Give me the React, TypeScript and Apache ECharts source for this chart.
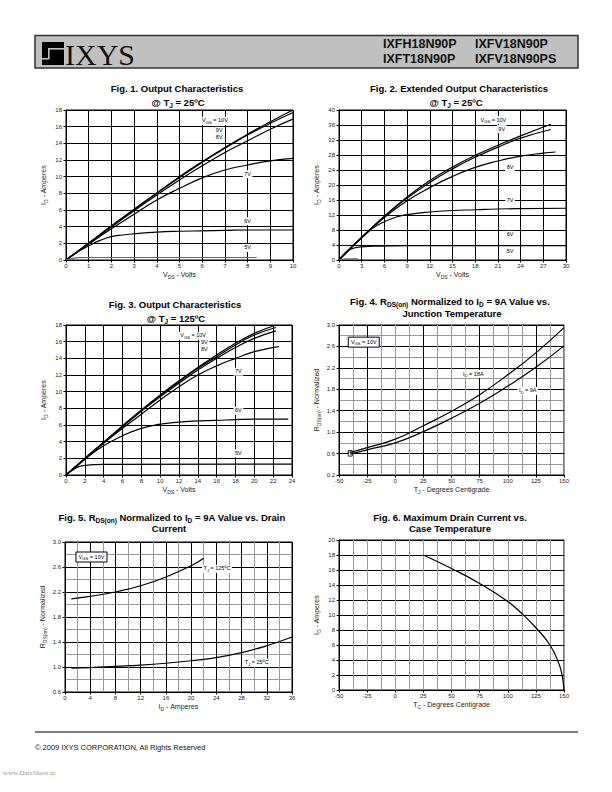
import React, { useEffect, useRef } from 'react';
import * as echarts from 'echarts';

const SANS = '"Liberation Sans", Arial, sans-serif';
const NARROW = '"Liberation Sans Narrow", "Arial Narrow", "Liberation Sans", sans-serif';
const SERIF = '"Liberation Serif", "Times New Roman", serif';

// ---------- Fig 1: Output Characteristics @ 25C  [VDS (V), ID (A)]
const fig1Vgs10 = [[0, 0], [1, 2.05], [2, 4.1], [3, 6.1], [4, 8.05], [5, 10.0], [6, 11.8], [7, 13.5], [8, 15.1], [9, 16.6], [10, 18.0]];
const fig1Vgs9 = [[0, 0], [1, 2.0], [2, 4.05], [3, 6.05], [4, 8.0], [5, 9.9], [6, 11.7], [7, 13.4], [8, 15.0], [9, 16.4], [10, 17.7]];
const fig1Vgs8 = [[0, 0], [1, 1.95], [2, 3.95], [3, 5.9], [4, 7.8], [5, 9.6], [6, 11.3], [7, 12.9], [8, 14.3], [9, 15.7], [10, 16.9]];
const fig1Vgs7 = [[0, 0], [1, 1.9], [2, 3.75], [3, 5.5], [4, 7.2], [5, 8.6], [6, 9.85], [7, 10.8], [8, 11.4], [9, 11.9], [10, 12.2]];
const fig1Vgs6 = [[0, 0], [0.5, 0.95], [1, 1.7], [1.5, 2.35], [2, 2.8], [2.5, 3.0], [3, 3.15], [4, 3.35], [5, 3.45], [6, 3.5], [7, 3.55], [8, 3.6], [10, 3.6]];
const fig1Vgs5 = [[0, 0], [0.3, 0.2], [0.6, 0.28], [1, 0.3], [8.4, 0.3]];

// ---------- Fig 2: Extended Output Characteristics @ 25C
const fig2Vgs10 = [[0, 0], [3, 6.1], [6, 11.7], [9, 16.8], [12, 21.2], [15, 24.8], [18, 27.9], [21, 30.6], [24, 33.1], [28, 36.2]];
const fig2Vgs9 = [[0, 0], [3, 6.0], [6, 11.6], [9, 16.5], [12, 20.7], [15, 24.3], [18, 27.4], [21, 30.1], [24, 32.5], [28, 34.8]];
const fig2Vgs8 = [[0, 0], [3, 5.9], [6, 11.3], [9, 15.8], [12, 19.3], [15, 22.3], [18, 24.7], [21, 26.4], [24, 27.7], [27, 28.5], [28.6, 28.8]];
const fig2Vgs7 = [[0, 0], [1.5, 3.2], [3, 6.0], [4.5, 8.5], [6, 10.2], [7.5, 11.4], [9, 12.1], [12, 12.8], [15, 13.2], [18, 13.4], [21, 13.6], [24, 13.7], [30, 13.8]];
const fig2Vgs6 = [[0, 0], [1, 2.2], [2, 3.2], [3, 3.5], [5, 3.7], [9, 3.8], [30, 3.8]];
const fig2Vgs5 = [[0, 0], [0.5, 0.2], [1, 0.3], [2.5, 0.3]];

// ---------- Fig 3: Output Characteristics @ 125C
const fig3Vgs10 = [[0, 0], [2, 2.0], [4, 3.95], [6, 5.9], [8, 7.8], [10, 9.6], [12, 11.3], [14, 12.9], [16, 14.4], [18, 15.8], [20, 17.0], [22.3, 18.0]];
const fig3Vgs9 = [[0, 0], [2, 2.0], [4, 3.9], [6, 5.85], [8, 7.7], [10, 9.5], [12, 11.2], [14, 12.8], [16, 14.2], [18, 15.6], [20, 16.8], [22.3, 17.7]];
const fig3Vgs8 = [[0, 0], [2, 1.95], [4, 3.9], [6, 5.8], [8, 7.65], [10, 9.4], [12, 11.0], [14, 12.6], [16, 14.0], [18, 15.3], [20, 16.4], [22.3, 17.3]];
const fig3Vgs7 = [[0, 0], [2, 1.9], [4, 3.8], [6, 5.6], [8, 7.3], [10, 9.0], [12, 10.6], [14, 12.0], [16, 13.1], [18, 14.0], [20, 14.8], [22.6, 15.4]];
const fig3Vgs6 = [[0, 0], [2, 1.9], [4, 3.5], [6, 4.7], [8, 5.6], [10, 6.1], [12, 6.35], [14, 6.5], [16, 6.55], [18, 6.65], [20, 6.7], [23.6, 6.7]];
const fig3Vgs5 = [[0, 0], [1, 0.8], [1.5, 1.05], [2, 1.15], [3, 1.25], [4, 1.28], [24, 1.3]];

// ---------- Fig 4: RDS(on) normalized vs junction temperature
const fig4Id18 = [[-40, 0.62], [-25, 0.71], [0, 0.87], [25, 1.12], [50, 1.39], [75, 1.70], [100, 2.07], [125, 2.48], [150, 2.95]];
const fig4Id9 = [[-40, 0.59], [-25, 0.67], [0, 0.80], [25, 1.01], [50, 1.26], [75, 1.54], [100, 1.86], [125, 2.21], [150, 2.61]];

// ---------- Fig 5: RDS(on) normalized vs drain current
const fig5Tj125 = [[1, 2.09], [4, 2.13], [8, 2.2], [12, 2.3], [16, 2.44], [20, 2.62], [22, 2.74]];
const fig5Tj25 = [[1, 0.98], [4, 0.99], [8, 1.01], [12, 1.03], [16, 1.06], [20, 1.1], [24, 1.15], [28, 1.23], [32, 1.34], [36, 1.48]];

// ---------- Fig 6: Maximum drain current vs case temperature
const fig6Id = [[25, 18], [50, 16.2], [75, 14.2], [100, 11.8], [112.5, 10.2], [125, 8.3], [137.5, 6.0], [145, 3.7], [148, 2.2], [150, 0]];

// axis ranges [min, max, step]
const fig1X = [0, 10, 1], fig1Y = [0, 18, 2];
const fig2X = [0, 30, 3], fig2Y = [0, 40, 4];
const fig3X = [0, 24, 2], fig3Y = [0, 18, 2];
const fig4X = [-50, 150, 25], fig4Y = [0.2, 3.0, 0.4];
const fig5X = [0, 36, 4], fig5Y = [0.6, 3.0, 0.4];
const fig6X = [-50, 150, 25], fig6Y = [0, 20, 2];

// annotation labels [x, y, main, sub, rest] in data coordinates
const fig1Labels: any[] = [[6.56, 16.7, 'V', 'GS', ' = 10V'], [6.75, 15.5, '9V'], [6.75, 14.7, '8V'], [8.0, 10.3, '7V'], [8.0, 4.65, '6V'], [8.0, 1.45, '5V']];
const fig2Labels: any[] = [[20.4, 37.3, 'V', 'GS', ' = 10V'], [21.5, 34.9, '9V'], [22.6, 24.7, '8V'], [22.6, 16.0, '7V'], [22.6, 6.7, '6V'], [22.6, 2.2, '5V']];
const fig3Labels: any[] = [[13.5, 16.7, 'V', 'GS', ' = 10V'], [14.7, 15.9, '9V'], [14.7, 15.1, '8V'], [18.3, 12.4, '7V'], [18.3, 7.7, '6V'], [18.3, 2.6, '5V']];
const fig4Labels: any[] = [[69.4, 2.085, 'I', 'D', ' = 18A'], [117.7, 1.77, 'I', 'D', ' = 9A']];
const fig5Labels: any[] = [[24.1, 2.57, 'T', 'J', ' = 125ºC'], [30.4, 1.07, 'T', 'J', ' = 25ºC']];
const fig4Box = [-28, 2.68];
const fig5Box = [4.2, 2.76];

type Fig = {
  left: number; top: number; width: number; height: number;
  x: number[]; y: number[];
  xName: string; yName: string;
  xSplit: any; ySplit: any; xMinor: boolean; yMinor: boolean; yDec: number;
  series: { data: number[][]; color?: string; startMark?: boolean }[];
  labels: any[];
  box?: number[];
};

const sub = (m: string, s: string, r: string) => `{n|${m}}{s|${s}}{n|${r}}`;

const figs: Fig[] = [
  {
    left: 66, top: 110, width: 227, height: 150, x: fig1X, y: fig1Y,
    xName: sub('V', 'DS', ' - Volts'), yName: sub('I', 'D', ' - Amperes'),
    xSplit: '#000', ySplit: '#000', xMinor: false, yMinor: false, yDec: 0,
    series: [{ data: fig1Vgs10 }, { data: fig1Vgs9 }, { data: fig1Vgs8 }, { data: fig1Vgs7 }, { data: fig1Vgs6 }, { data: fig1Vgs5, color: '#666' }],
    labels: fig1Labels,
  },
  {
    left: 339, top: 110, width: 227, height: 150, x: fig2X, y: fig2Y,
    xName: sub('V', 'DS', ' - Volts'), yName: sub('I', 'D', ' - Amperes'),
    xSplit: '#000', ySplit: '#000', xMinor: false, yMinor: false, yDec: 0,
    series: [{ data: fig2Vgs10 }, { data: fig2Vgs9 }, { data: fig2Vgs8 }, { data: fig2Vgs7 }, { data: fig2Vgs6 }, { data: fig2Vgs5, color: '#666' }],
    labels: fig2Labels,
  },
  {
    left: 66, top: 325, width: 226, height: 150, x: fig3X, y: fig3Y,
    xName: sub('V', 'DS', ' - Volts'), yName: sub('I', 'D', ' - Amperes'),
    xSplit: '#000', ySplit: '#000', xMinor: false, yMinor: false, yDec: 0,
    series: [{ data: fig3Vgs10 }, { data: fig3Vgs9 }, { data: fig3Vgs8 }, { data: fig3Vgs7 }, { data: fig3Vgs6 }, { data: fig3Vgs5 }],
    labels: fig3Labels,
  },
  {
    left: 339, top: 325, width: 225, height: 150, x: fig4X, y: fig4Y,
    xName: sub('T', 'J', ' - Degrees Centigrade'), yName: sub('R', 'DS(on)', ' - Normalized'),
    xSplit: ['#999', '#000'], ySplit: '#000', xMinor: true, yMinor: true, yDec: 1,
    series: [{ data: fig4Id18, startMark: true }, { data: fig4Id9, startMark: true }],
    labels: fig4Labels, box: fig4Box,
  },
  {
    left: 65, top: 542, width: 227, height: 150, x: fig5X, y: fig5Y,
    xName: sub('I', 'D', ' - Amperes'), yName: sub('R', 'DS(on)', ' - Normalized'),
    xSplit: '#000', ySplit: '#000', xMinor: true, yMinor: true, yDec: 1,
    series: [{ data: fig5Tj125 }, { data: fig5Tj25 }],
    labels: fig5Labels, box: fig5Box,
  },
  {
    left: 339, top: 540, width: 225, height: 150, x: fig6X, y: fig6Y,
    xName: sub('T', 'C', ' - Degrees Centigrade'), yName: sub('I', 'D', ' - Amperes'),
    xSplit: '#999', ySplit: '#000', xMinor: true, yMinor: false, yDec: 0,
    series: [{ data: fig6Id }],
    labels: [],
  },
];

const titles: { x: number; y: number; text: string }[] = [
  { x: 177, y: 89, text: '{b|Fig. 1. Output Characteristics}' },
  { x: 178, y: 103, text: '{b|@ T}{bs|J}{b| = 25ºC}' },
  { x: 459, y: 89, text: '{b|Fig. 2. Extended Output Characteristics}' },
  { x: 456, y: 103, text: '{b|@ T}{bs|J}{b| = 25ºC}' },
  { x: 175, y: 305, text: '{b|Fig. 3. Output Characteristics}' },
  { x: 176, y: 319, text: '{b|@ T}{bs|J}{b| = 125ºC}' },
  { x: 450, y: 302, text: '{b|Fig. 4. R}{bs|DS(on)}{b| Normalized to I}{bs|D}{b| = 9A Value vs.}' },
  { x: 452, y: 314, text: '{b|Junction Temperature}' },
  { x: 172, y: 518, text: '{b|Fig. 5. R}{bs|DS(on)}{b| Normalized to I}{bs|D}{b| = 9A Value vs. Drain}' },
  { x: 169, y: 529, text: '{b|Current}' },
  { x: 450, y: 518, text: '{b|Fig. 6. Maximum Drain Current vs.}' },
  { x: 450, y: 529, text: '{b|Case Temperature}' },
];

const axisRich = {
  n: { fontSize: 7, fontFamily: SANS, color: '#222', verticalAlign: 'bottom', padding: [0, 0, 1.5, 0] },
  s: { fontSize: 5, fontFamily: SANS, color: '#222', verticalAlign: 'bottom' },
};
const titleRich = {
  b: { fontSize: 9.5, fontFamily: NARROW, fontWeight: 'bold', color: '#000', verticalAlign: 'bottom', padding: [0, 0, 2, 0] },
  bs: { fontSize: 6.5, fontFamily: NARROW, fontWeight: 'bold', color: '#000', verticalAlign: 'bottom' },
};
const labelRich = {
  n: { fontSize: 5.5, fontFamily: SANS, color: '#222', verticalAlign: 'bottom', padding: [0, 0, 1, 0] },
  s: { fontSize: 4.2, fontFamily: SANS, color: '#222', verticalAlign: 'bottom' },
};

function toPx(f: Fig, x: number, y: number) {
  return [
    f.left + ((x - f.x[0]) / (f.x[1] - f.x[0])) * f.width,
    f.top + ((f.y[1] - y) / (f.y[1] - f.y[0])) * f.height,
  ];
}

function buildOption() {
  const grid: any[] = [];
  const xAxis: any[] = [];
  const yAxis: any[] = [];
  const series: any[] = [];
  const elements: any[] = [];

  figs.forEach((f, i) => {
    grid.push({ left: f.left, top: f.top, width: f.width, height: f.height, show: true, borderColor: '#000', borderWidth: 1, backgroundColor: 'transparent' });
    const common = {
      type: 'value', gridIndex: i,
      axisLine: { show: true, onZero: false, lineStyle: { color: '#000', width: 1 } },
      axisTick: { show: true, length: 2.5, lineStyle: { color: '#000' } },
      minorTick: { show: false, splitNumber: 2 },
      nameLocation: 'middle', nameTextStyle: { rich: axisRich },
    };
    xAxis.push({
      ...common,
      min: f.x[0], max: f.x[1], interval: f.x[2],
      axisLabel: { fontSize: 6, color: '#222', fontFamily: SANS, margin: 3 },
      splitLine: { show: true, lineStyle: { color: f.xSplit, width: 1 } },
      minorSplitLine: { show: f.xMinor, lineStyle: { color: '#999', width: 1 } },
      name: f.xName, nameGap: 11,
    });
    yAxis.push({
      ...common,
      min: f.y[0], max: f.y[1], interval: f.y[2],
      axisLabel: { fontSize: 6, color: '#222', fontFamily: SANS, margin: 4, formatter: (v: number) => v.toFixed(f.yDec) },
      splitLine: { show: true, lineStyle: { color: f.ySplit, width: 1 } },
      minorSplitLine: { show: f.yMinor, lineStyle: { color: '#999', width: 1 } },
      name: f.yName, nameGap: 18, nameRotate: 90,
    });
    f.series.forEach((s) => {
      const color = s.color || '#000';
      series.push({
        type: 'line', xAxisIndex: i, yAxisIndex: i, data: s.data,
        showSymbol: false, smooth: 0.5, silent: true, z: 5,
        lineStyle: { color, width: 1.2 },
        markPoint: s.startMark ? {
          silent: true, symbol: 'rect', symbolSize: 4, label: { show: false },
          itemStyle: { color: '#fff', borderColor: '#000', borderWidth: 0.8 },
          data: [{ coord: s.data[0] }],
        } : undefined,
      });
    });
    f.labels.forEach((l: any[]) => {
      const [px, py] = toPx(f, l[0], l[1]);
      const text = l.length > 3 ? sub(l[2], l[3], l[4]) : `{n|${l[2]}}`;
      elements.push({
        type: 'text', x: px, y: py, z: 50,
        style: { text, rich: labelRich, align: 'center', verticalAlign: 'middle', backgroundColor: '#fff', padding: [0.5, 1.5] },
      });
    });
    if (f.box) {
      const [bx, by] = toPx(f, f.box[0], f.box[1]);
      elements.push({ type: 'rect', shape: { x: bx - 15.5, y: by - 5, width: 31, height: 10 }, style: { fill: '#fff', stroke: '#000', lineWidth: 1 }, z: 50 });
      elements.push({ type: 'text', x: bx, y: by, z: 51, style: { text: sub('V', 'GS', ' = 10V'), rich: labelRich, align: 'center', verticalAlign: 'middle' } });
    }
  });

  titles.forEach((t) => {
    elements.push({ type: 'text', x: t.x, y: t.y, z: 50, style: { text: t.text, rich: titleRich, align: 'center', verticalAlign: 'middle' } });
  });

  // header
  elements.push({ type: 'rect', shape: { x: 35, y: 35.5, width: 543, height: 32.5 }, style: { fill: '#c0c0c0', stroke: '#333', lineWidth: 1.5 }, z: 1 });
  elements.push({ type: 'rect', shape: { x: 42, y: 42, width: 22, height: 23 }, style: { fill: '#000' }, z: 2 });
  elements.push({ type: 'rect', shape: { x: 48, y: 48, width: 16, height: 1.6 }, style: { fill: '#c0c0c0' }, z: 3 });
  elements.push({ type: 'rect', shape: { x: 48, y: 48, width: 1.6, height: 11 }, style: { fill: '#c0c0c0' }, z: 3 });
  elements.push({ type: 'rect', shape: { x: 42, y: 58, width: 7, height: 1.6 }, style: { fill: '#c0c0c0' }, z: 3 });
  elements.push({ type: 'text', x: 65, y: 54, z: 3, style: { text: 'IXYS', fontFamily: SERIF, fontSize: 30, fill: '#111', align: 'left', verticalAlign: 'middle' } });
  const pn = { fontFamily: SANS, fontSize: 12.5, fontWeight: 'bold', fill: '#111', align: 'left', verticalAlign: 'middle' };
  elements.push({ type: 'text', x: 383, y: 44, z: 3, style: { ...pn, text: 'IXFH18N90P' } });
  elements.push({ type: 'text', x: 475, y: 44, z: 3, style: { ...pn, text: 'IXFV18N90P' } });
  elements.push({ type: 'text', x: 383, y: 58.5, z: 3, style: { ...pn, text: 'IXFT18N90P' } });
  elements.push({ type: 'text', x: 475, y: 58.5, z: 3, style: { ...pn, text: 'IXFV18N90PS' } });

  // footer
  elements.push({ type: 'line', shape: { x1: 35, y1: 732, x2: 578, y2: 732 }, style: { stroke: '#000', lineWidth: 1 }, z: 2 });
  elements.push({ type: 'text', x: 35, y: 747.5, z: 3, style: { text: '© 2009 IXYS CORPORATION, All Rights Reserved', fontFamily: SANS, fontSize: 7.5, fill: '#111', align: 'left', verticalAlign: 'middle' } });
  elements.push({ type: 'text', x: 3, y: 773, z: 3, style: { text: 'www.DataSheet.in', fontFamily: SERIF, fontSize: 7, fill: '#999', align: 'left', verticalAlign: 'middle' } });

  return { animation: false, backgroundColor: '#fff', grid, xAxis, yAxis, series, graphic: { elements } };
}

export default function App() {
  const ref = useRef<HTMLDivElement>(null);
  useEffect(() => {
    if (!ref.current) return;
    const chart = echarts.init(ref.current, null, { renderer: 'svg' });
    chart.setOption(buildOption() as any);
    return () => chart.dispose();
  }, []);
  return <div ref={ref} style={{ position: 'absolute', left: 0, top: 0, width: 612, height: 792, background: '#fff' }} />;
}
